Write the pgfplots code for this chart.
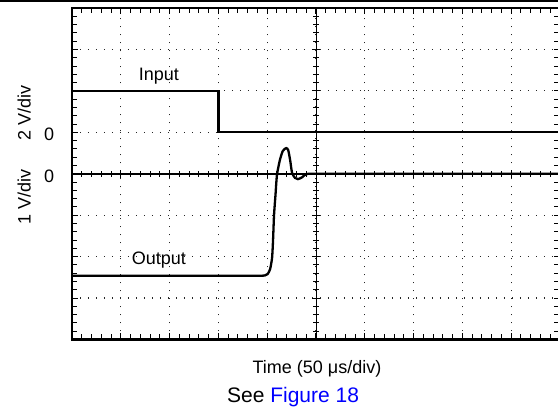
\documentclass[border=0pt]{standalone}
\usepackage{fontspec}
\setmainfont{Liberation Sans}
\usepackage{pgfplots}
\pgfplotsset{compat=1.18}
\newcommand{\lbl}{\fontsize{18}{21}\selectfont}
\begin{document}
\begin{tikzpicture}[x=1pt,y=1pt]
\useasboundingbox (-72,-71.5) rectangle (486,339.5);
\draw[line width=1.7pt] (-72,338.65) -- (486,338.65);
\begin{axis}[
  at={(0,0)}, anchor=south west,
  scale only axis, width=488pt, height=331.5pt,
  xmin=0, xmax=10, ymin=0, ymax=8,
  clip=false,
  axis line style={line width=2.2pt},
  xtick={0,...,10}, ytick={0,...,8},
  minor x tick num=4, minor y tick num=4,
  xticklabels={}, yticklabels={},
  tick align=inside,
  major tick length=6pt, minor tick length=5.5pt,
  tick style={line width=1pt, black},
  grid=major,
  major grid style={black!85, line width=1.2pt, dash pattern=on 1.2pt off 6.8pt},
]
\addplot[black, line width=2.3pt, line join=miter] coordinates {(0,6) (3,6) (3,5) (10,5)};
\addplot[black, line width=2.3pt, smooth, tension=0.4] coordinates {
 (0,1.54) (1,1.54) (2,1.54) (3,1.54) (3.5,1.54) (3.75,1.54) (3.88,1.54) (3.95,1.545) (4.01,1.58) (4.06,1.70) (4.10,1.97) (4.12,2.40) (4.14,3.00)
 (4.17,3.49) (4.20,3.97) (4.26,4.33) (4.32,4.55) (4.39,4.62) (4.43,4.57) (4.47,4.33)
 (4.51,4.02) (4.57,3.90) (4.63,3.87) (4.71,3.91) (4.77,3.97) (4.84,4.0) (4.92,4.0) (5.05,4.0) (5.3,4.0) (5.8,4.0) (6.5,4.0) (7.5,4.0) (8.5,4.0) (10,4.0)};
\node[anchor=base, font=\lbl] at (axis cs:1.78,6.24) {Input};
\node[anchor=base, font=\lbl] at (axis cs:1.78,1.80) {Output};
\node[rotate=90, font=\lbl] at (axis cs:-0.98,5.47) {2 V/div};
\node[rotate=90, font=\lbl] at (axis cs:-0.98,3.44) {1 V/div};
\node[font=\lbl] at (axis cs:-0.47,4.95) {0};
\node[font=\lbl] at (axis cs:-0.47,3.95) {0};
\node[anchor=base, font=\lbl] at (axis cs:5.02,-0.81) {Time (50 μs/div)};
\node[anchor=base, font=\fontsize{21}{24}\selectfont] at (axis cs:4.53,-1.51) {See \textcolor{blue}{Figure 18}};
\end{axis}
\begin{axis}[
  at={(0,0)}, anchor=south west,
  scale only axis, width=488pt, height=331.5pt,
  xmin=-5, xmax=5, ymin=-4, ymax=4,
  axis lines=middle, axis line style={-},
  x axis line style={line width=2pt},
  y axis line style={line width=1pt},
  xtick={-5,...,5}, ytick={-4,...,4},
  minor x tick num=4, minor y tick num=4,
  xticklabels={}, yticklabels={},
  tick align=center,
  major tick length=8pt, minor tick length=6pt,
  tick style={line width=1pt, black},
]
\end{axis}
\end{tikzpicture}
\end{document}
